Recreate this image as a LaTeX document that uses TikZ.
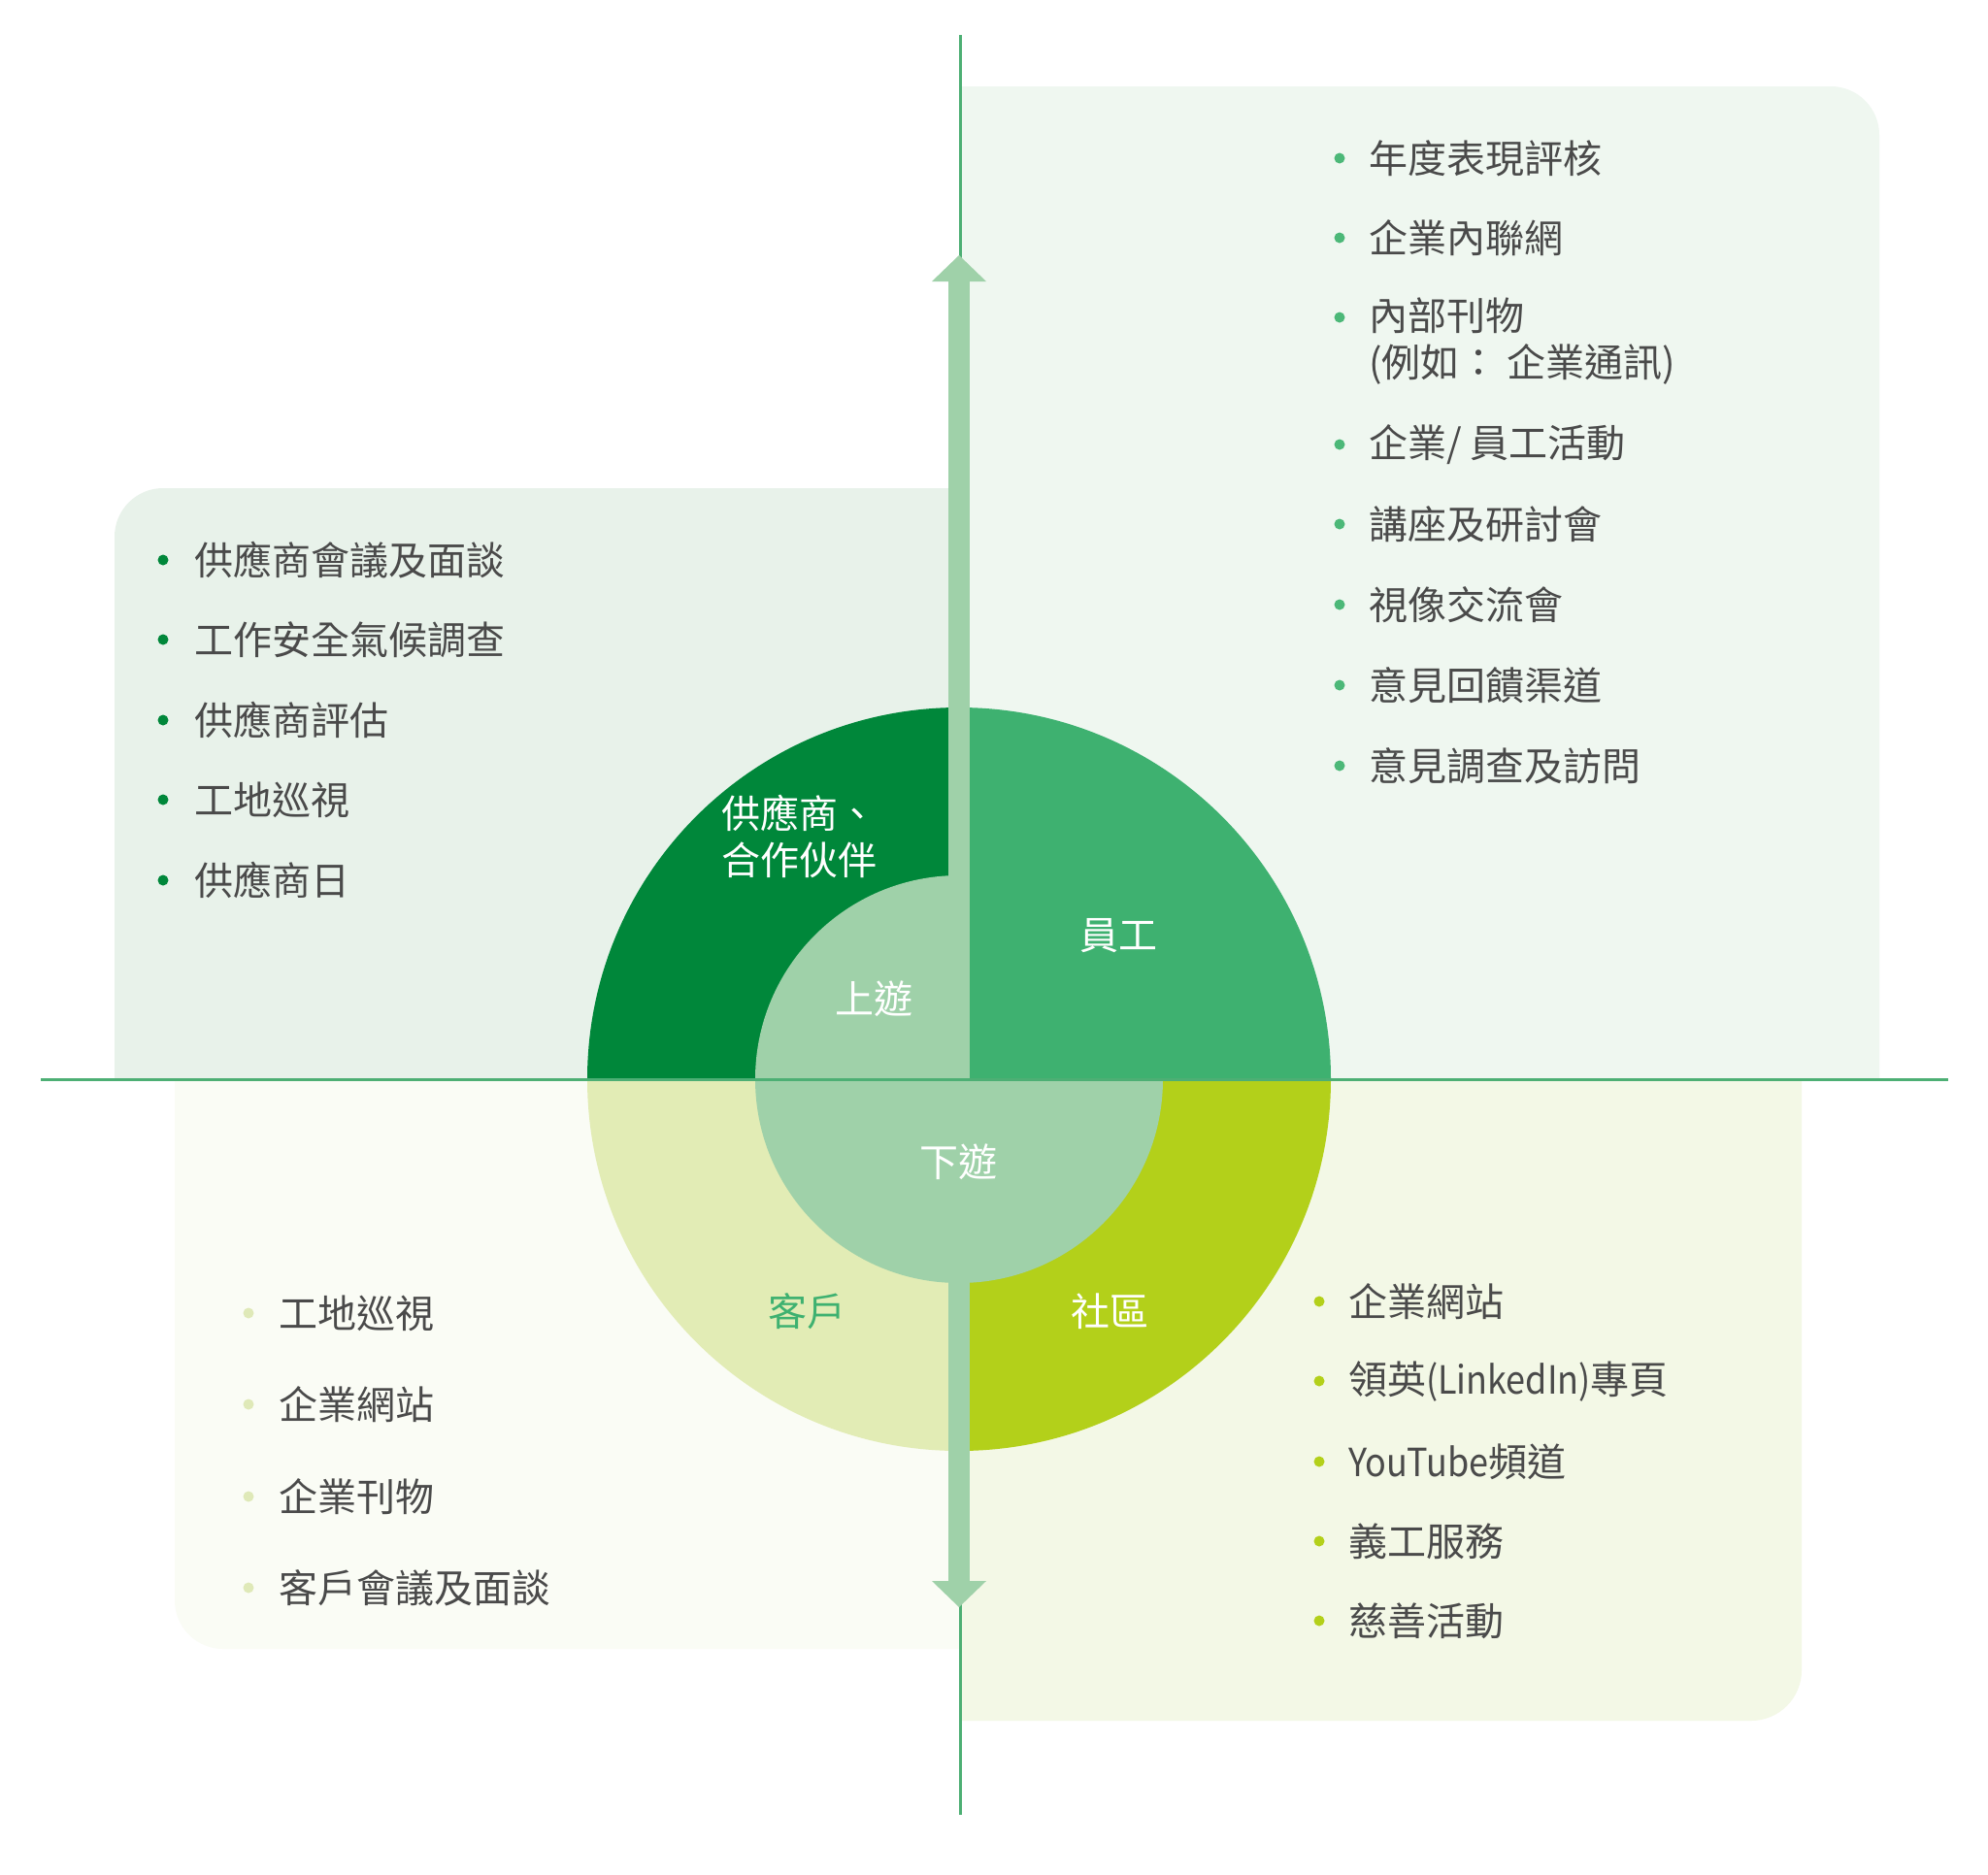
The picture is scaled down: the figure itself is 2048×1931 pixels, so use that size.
\documentclass[tikz,border=0pt]{standalone}
\usepackage{fontspec}
\setmainfont{Noto Sans CJK TC}
\newfontfamily\latinnarrow[FakeStretch=0.9]{Noto Sans CJK TC}
\definecolor{dkgreen}{HTML}{00873A}
\definecolor{mdgreen}{HTML}{3EB170}
\definecolor{ltgreen}{HTML}{9FD1A9}
\definecolor{paleyel}{HTML}{E2ECB5}
\definecolor{lime}{HTML}{B3D01A}
\definecolor{bgTL}{HTML}{E8F2EA}
\definecolor{bgTR}{HTML}{EFF7F0}
\definecolor{bgBL}{HTML}{FAFCF5}
\definecolor{bgBR}{HTML}{F3F8E6}
\definecolor{axis}{HTML}{4DAF74}
\definecolor{txt}{HTML}{4A4A4A}
\definecolor{bulBL}{HTML}{DFE9B8}
\definecolor{bulTR}{HTML}{4CB878}
\begin{document}
\begin{tikzpicture}[x=1pt,y=1pt,
  item/.style={anchor=west,inner sep=0pt,text=txt,font=\fontsize{40}{48}\selectfont,align=left},
  lbl/.style={inner sep=0pt,text=white,font=\fontsize{40}{48}\selectfont,align=left},
  axisline/.style={draw=axis,line width=3pt}]
\useasboundingbox (0,0) rectangle (2048,-1931);
\fill[white] (0,0) rectangle (2048,-1931);
% background panels
\fill[bgTR] (989,-89) -- (1886,-89) arc[start angle=90,end angle=0,radius=50] -- (1936,-1112) -- (989,-1112) -- cycle;
\fill[bgTL] (989,-503) -- (168,-503) arc[start angle=90,end angle=180,radius=50] -- (118,-1112) -- (989,-1112) -- cycle;
\fill[bgBL] (989,-1112) -- (180,-1112) -- (180,-1649) arc[start angle=180,end angle=270,radius=50] -- (989,-1699) -- cycle;
\fill[bgBR] (989,-1112) -- (1856,-1112) -- (1856,-1721) arc[start angle=0,end angle=-90,radius=52] -- (989,-1773) -- cycle;
% vertical axis
\coordinate (vtop) at (989,-36);
\coordinate (vbot) at (989,-1870);
\draw[axisline] (vtop) -- (vbot);
% circle sectors
\coordinate (C) at (988,-1112);
\fill[dkgreen] (C) -- (605,-1112) arc[start angle=180,end angle=90,radius=383] -- cycle;
\fill[mdgreen] (C) -- (1371,-1112) arc[start angle=0,end angle=90,radius=383] -- cycle;
\fill[paleyel] (C) -- (605,-1112) arc[start angle=180,end angle=270,radius=383] -- cycle;
\fill[lime] (C) -- (1371,-1112) arc[start angle=0,end angle=-90,radius=383] -- cycle;
\fill[ltgreen] (C) -- (778,-1112) arc[start angle=180,end angle=90,radius=210] -- cycle;
\fill[ltgreen] (778,-1112) arc[start angle=180,end angle=360,radius=210] -- cycle;
% double arrow band
\fill[ltgreen] (977,-290) rectangle (999,-1629);
\fill[ltgreen] (960,-290) -- (988,-263) -- (1016,-290) -- cycle;
\fill[ltgreen] (960,-1629) -- (988,-1656) -- (1016,-1629) -- cycle;
% horizontal axis
\coordinate (hl) at (42,-1112);
\coordinate (hr) at (2007,-1112);
\draw[axisline] (hl) -- (hr);
% circle labels
\node[lbl,anchor=west] (sup) at (743,-862) {供應商、\\合作伙伴};
\node[lbl] (emp) at (1152,-964) {員工};
\node[lbl] (up) at (900,-1029) {上遊};
\node[lbl] (down) at (987,-1197) {下遊};
\node[lbl,text=mdgreen] (cust) at (831,-1351) {客戶};
\node[lbl] (comm) at (1143,-1351) {社區};
% top-left list
\foreach \y/\t [count=\i] in {577/供應商會議及面談,659/工作安全氣候調查,742/供應商評估,824/工地巡視,907/供應商日}{
  \fill[dkgreen] (168,-\y) circle[radius=5.5];
  \node[item] (tl\i) at (200,-\y) {\t};
}
% top-right list
\foreach \y/\t [count=\i] in {163/年度表現評核,245/企業內聯網,458/{企業/ 員工活動},540/講座及研討會,623/視像交流會,706/意見回饋渠道,789/意見調查及訪問}{
  \fill[bulTR] (1380,-\y) circle[radius=5.5];
  \node[item] (tr\i) at (1410,-\y) {\t};
}
\fill[bulTR] (1380,-327) circle[radius=5.5];
\node[item] (trpub) at (1410,-351.5) {內部刊物\\(例如： 企業通訊)};
% bottom-left list
\foreach \y/\t [count=\i] in {1353/工地巡視,1447/企業網站,1542/企業刊物,1636/客戶會議及面談}{
  \fill[bulBL] (256,-\y) circle[radius=5.5];
  \node[item] (bl\i) at (287,-\y) {\t};
}
% bottom-right list
\foreach \y/\t [count=\i] in {1341/企業網站,1423/{領英{\latinnarrow(LinkedIn)}專頁},1506/{{\latinnarrow YouTube}頻道},1588/義工服務,1670/慈善活動}{
  \fill[lime] (1359,-\y) circle[radius=5.5];
  \node[item] (br\i) at (1389,-\y) {\t};
}
\end{tikzpicture}
\end{document}
